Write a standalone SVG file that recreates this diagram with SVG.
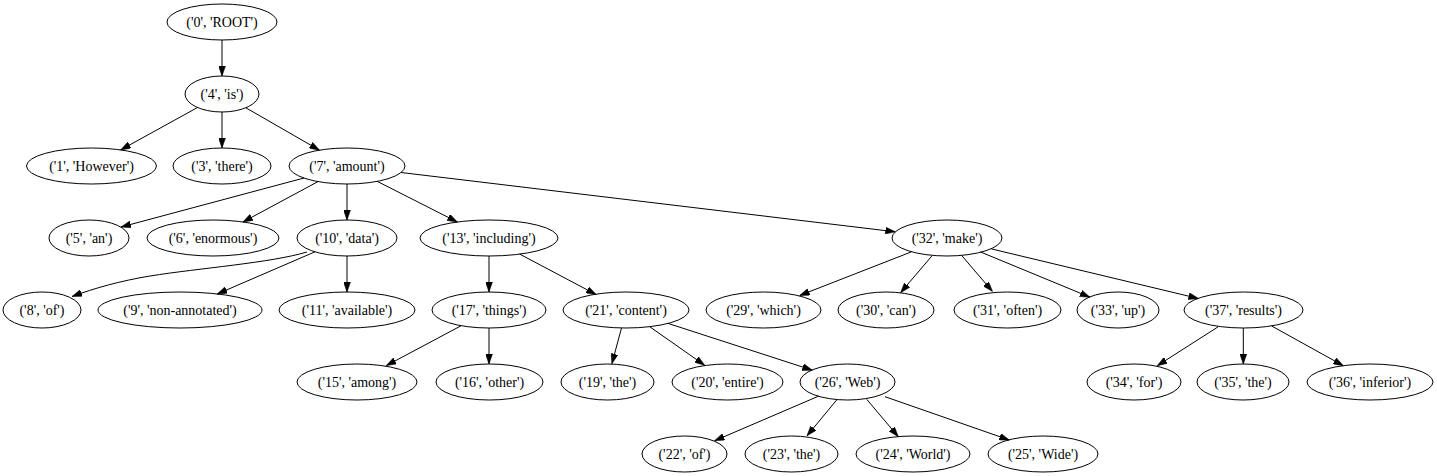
<svg xmlns="http://www.w3.org/2000/svg" width="1437" height="476" viewBox="0 0 1437 476" font-family="'Liberation Serif', 'DejaVu Serif', serif">
<defs>
<style>
.n ellipse{fill:none;stroke:#000;stroke-width:1}
.n text{font-family:'Liberation Serif','DejaVu Serif',serif;font-size:14px;text-anchor:middle;fill:#000}
#edges path{fill:none;stroke:#000;stroke-width:1;marker-end:url(#ah)}
</style>
<marker id="ah" markerUnits="userSpaceOnUse" markerWidth="10" markerHeight="7" viewBox="0 0 10 7" refX="10" refY="3.5" orient="auto">
<path d="M0,0 L10,3.5 L0,7 z" fill="#000" stroke="#000" stroke-width="0.5"/>
</marker>
</defs>
<rect width="1437" height="476" fill="#fff"/>
<g id="edges">
<path d="M222,40 L222,76"/>
<path d="M197.5,107.5 L120.7,149.9"/>
<path d="M222,112 L222,148"/>
<path d="M245.9,107.8 L319.5,150.2"/>
<path d="M304,178 L121,227"/>
<path d="M318,181.6 L242.9,222"/>
<path d="M347,184 L347,220"/>
<path d="M377.3,181.4 L457.4,222"/>
<path d="M401.1,172.5 L895.4,231.8"/>
<path d="M307,252 C270,263 200,268 150,276 C120,281 95,288 72,296.5"/>
<path d="M315,251.8 L217.2,294"/>
<path d="M347,256 L347,292"/>
<path d="M489,256 L489,292"/>
<path d="M519.7,254.1 L596.2,294.6"/>
<path d="M911.3,251.9 L799.6,295.5"/>
<path d="M932,255.8 L900.6,292.7"/>
<path d="M961.5,255.3 L992.5,291.5"/>
<path d="M980.6,252 L1090,297.2"/>
<path d="M991.4,248.9 L1198.5,298.5"/>
<path d="M461,325.8 L386.3,365.6"/>
<path d="M489,328 L489,364"/>
<path d="M621.5,328 L611.9,363.7"/>
<path d="M649.7,326.7 L704.7,365.3"/>
<path d="M668,323.4 L812.4,370.2"/>
<path d="M818.5,396.2 L714.5,440.8"/>
<path d="M837,399.6 L807,435.8"/>
<path d="M866.7,399.3 L898.3,436.7"/>
<path d="M885,396.7 L1009.3,440"/>
<path d="M1218.3,326.7 L1157.3,365.7"/>
<path d="M1243.3,328 L1243.3,364"/>
<path d="M1271.7,326 L1343.3,365.7"/>
</g>
<g id="n0" class="n"><ellipse cx="222" cy="22" rx="55" ry="18"/><text x="222" y="26.5">('0', 'ROOT')</text></g>
<g id="n4" class="n"><ellipse cx="222" cy="94" rx="37" ry="18"/><text x="222" y="98.5">('4', 'is')</text></g>
<g id="n1" class="n"><ellipse cx="91.5" cy="166" rx="65" ry="18"/><text x="91.5" y="170.5">('1', 'However')</text></g>
<g id="n3" class="n"><ellipse cx="222" cy="166" rx="49" ry="18"/><text x="222" y="170.5">('3', 'there')</text></g>
<g id="n7" class="n"><ellipse cx="347" cy="166" rx="58" ry="18"/><text x="347" y="170.5">('7', 'amount')</text></g>
<g id="n5" class="n"><ellipse cx="89" cy="238" rx="40" ry="18"/><text x="89" y="242.5">('5', 'an')</text></g>
<g id="n6" class="n"><ellipse cx="213" cy="238" rx="66" ry="18"/><text x="213" y="242.5">('6', 'enormous')</text></g>
<g id="n10" class="n"><ellipse cx="347" cy="238" rx="50" ry="18"/><text x="347" y="242.5">('10', 'data')</text></g>
<g id="n13" class="n"><ellipse cx="489" cy="238" rx="69" ry="18"/><text x="489" y="242.5">('13', 'including')</text></g>
<g id="n32" class="n"><ellipse cx="947" cy="238" rx="55" ry="18"/><text x="947" y="242.5">('32', 'make')</text></g>
<g id="n8" class="n"><ellipse cx="42" cy="310" rx="39" ry="18"/><text x="42" y="314.5">('8', 'of')</text></g>
<g id="n9" class="n"><ellipse cx="180" cy="310" rx="82" ry="18"/><text x="180" y="314.5">('9', 'non-annotated')</text></g>
<g id="n11" class="n"><ellipse cx="347" cy="310" rx="68" ry="18"/><text x="347" y="314.5">('11', 'available')</text></g>
<g id="n17" class="n"><ellipse cx="489" cy="310" rx="57" ry="18"/><text x="489" y="314.5">('17', 'things')</text></g>
<g id="n21" class="n"><ellipse cx="626" cy="310" rx="63" ry="18"/><text x="626" y="314.5">('21', 'content')</text></g>
<g id="n29" class="n"><ellipse cx="763.5" cy="310" rx="57.5" ry="18"/><text x="763.5" y="314.5">('29', 'which')</text></g>
<g id="n30" class="n"><ellipse cx="886" cy="310" rx="48" ry="18"/><text x="886" y="314.5">('30', 'can')</text></g>
<g id="n31" class="n"><ellipse cx="1007.5" cy="310" rx="53.5" ry="18"/><text x="1007.5" y="314.5">('31', 'often')</text></g>
<g id="n33" class="n"><ellipse cx="1118" cy="310" rx="41" ry="18"/><text x="1118" y="314.5">('33', 'up')</text></g>
<g id="n37" class="n"><ellipse cx="1243.5" cy="310" rx="59.5" ry="18"/><text x="1243.5" y="314.5">('37', 'results')</text></g>
<g id="n15" class="n"><ellipse cx="357" cy="382" rx="60" ry="18"/><text x="357" y="386.5">('15', 'among')</text></g>
<g id="n16" class="n"><ellipse cx="489.5" cy="382" rx="53.5" ry="18"/><text x="489.5" y="386.5">('16', 'other')</text></g>
<g id="n19" class="n"><ellipse cx="607.5" cy="382" rx="46.5" ry="18"/><text x="607.5" y="386.5">('19', 'the')</text></g>
<g id="n20" class="n"><ellipse cx="727.5" cy="382" rx="55.5" ry="18"/><text x="727.5" y="386.5">('20', 'entire')</text></g>
<g id="n26" class="n"><ellipse cx="847.5" cy="382" rx="47.5" ry="18"/><text x="847.5" y="386.5">('26', 'Web')</text></g>
<g id="n34" class="n"><ellipse cx="1134" cy="382" rx="47" ry="18"/><text x="1134" y="386.5">('34', 'for')</text></g>
<g id="n35" class="n"><ellipse cx="1243" cy="382" rx="46" ry="18"/><text x="1243" y="386.5">('35', 'the')</text></g>
<g id="n36" class="n"><ellipse cx="1370" cy="382" rx="63" ry="18"/><text x="1370" y="386.5">('36', 'inferior')</text></g>
<g id="n22" class="n"><ellipse cx="684.5" cy="454" rx="42.5" ry="18"/><text x="684.5" y="458.5">('22', 'of')</text></g>
<g id="n23" class="n"><ellipse cx="791.5" cy="454" rx="46.5" ry="18"/><text x="791.5" y="458.5">('23', 'the')</text></g>
<g id="n24" class="n"><ellipse cx="913" cy="454" rx="57" ry="18"/><text x="913" y="458.5">('24', 'World')</text></g>
<g id="n25" class="n"><ellipse cx="1043" cy="454" rx="55" ry="18"/><text x="1043" y="458.5">('25', 'Wide')</text></g>
</svg>
